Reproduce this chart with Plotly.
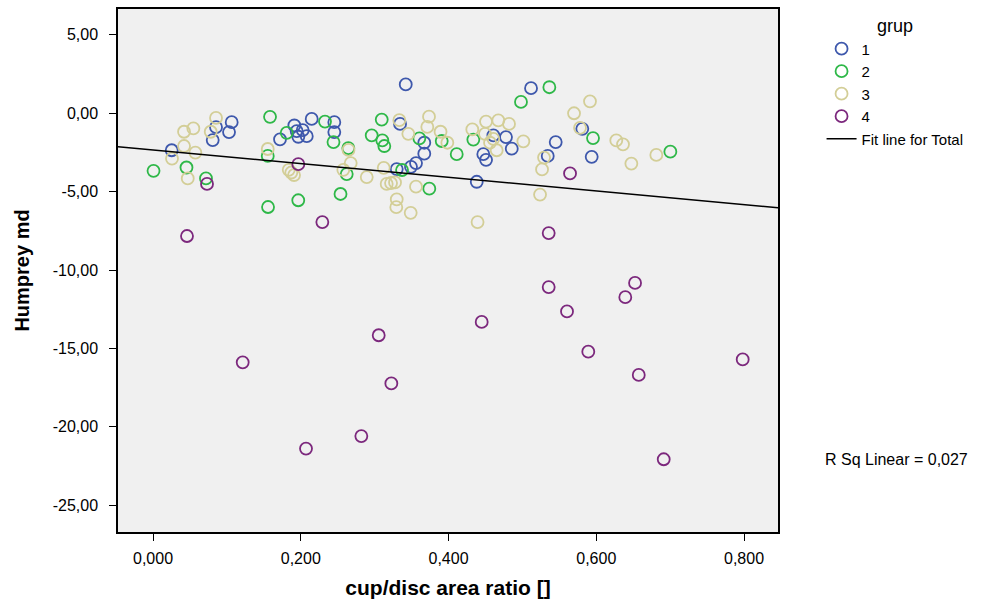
import numpy as np
import plotly.graph_objects as go

# cup/disc area ratio and Humphrey mean deviation, per group
g1_x = [0.0253, 0.0808, 0.0853, 0.1065, 0.1029, 0.1719, 0.1913, 0.2148, 0.1945, 0.2026,
        0.2081, 0.1967, 0.2454, 0.2454, 0.3421, 0.3344, 0.3672, 0.3672, 0.3560, 0.3492,
        0.3299, 0.4382, 0.4607, 0.4778, 0.4856, 0.4471, 0.4508, 0.5117, 0.5451, 0.5343,
        0.5811, 0.5938]
g1_y = [-2.36, -1.71, -0.89, -0.57, -1.20, -1.66, -0.78, -0.36, -1.14, -1.08,
        -1.46, -1.50, -0.57, -1.20, 1.84, -0.68, -1.88, -2.58, -3.18, -3.42,
        -3.56, -4.37, -1.41, -1.52, -2.26, -2.61, -2.97, 1.60, -1.84, -2.72,
        -0.99, -2.78]

g2_x = [0.0007, 0.0453, 0.0717, 0.1584, 0.1557, 0.1553, 0.1810, 0.1966, 0.2328, 0.2443,
        0.2538, 0.2644, 0.2622, 0.2960, 0.3096, 0.3104, 0.3131, 0.3371, 0.3605, 0.3740,
        0.3908, 0.4111, 0.4336, 0.4981, 0.5365, 0.5956, 0.7003]
g2_y = [-3.67, -3.46, -4.16, -0.23, -5.98, -2.72, -1.25, -5.55, -0.53, -1.84,
        -5.15, -2.22, -3.88, -1.41, -0.40, -1.73, -2.09, -3.62, -1.60, -4.81,
        -1.77, -2.61, -1.68, 0.72, 1.66, -1.58, -2.45]

g3_x = [0.0853, 0.0546, 0.0420, 0.0781, 0.0420, 0.0573, 0.0257, 0.0470, 0.1553, 0.1837,
        0.1872, 0.1909, 0.2646, 0.3334, 0.3736, 0.3713, 0.3456, 0.2676, 0.2576, 0.2893,
        0.3123, 0.3163, 0.3222, 0.3276, 0.3560, 0.3299, 0.3293, 0.3488, 0.3892, 0.4508,
        0.4674, 0.4819, 0.4322, 0.4494, 0.3984, 0.4562, 0.4652, 0.5013, 0.4606, 0.4393,
        0.5915, 0.5699, 0.5780, 0.5293, 0.5266, 0.5239, 0.6271, 0.6362, 0.6813, 0.6475]
g3_y = [-0.30, -0.97, -1.18, -1.18, -2.09, -2.51, -2.89, -4.16, -2.28, -3.61,
        -3.78, -3.94, -2.34, -0.44, -0.22, -0.87, -1.31, -3.18, -3.61, -4.07,
        -3.48, -4.51, -4.45, -4.41, -4.68, -5.49, -5.99, -6.35, -1.18, -0.53,
        -0.46, -0.68, -1.03, -1.31, -1.88, -1.88, -2.36, -1.79, -1.63, -6.94,
        0.76, 0.00, -0.93, -2.83, -3.58, -5.19, -1.73, -1.98, -2.66, -3.21]

g4_x = [0.0460, 0.0731, 0.1967, 0.2292, 0.1214, 0.2071, 0.2820, 0.3055, 0.3226, 0.4449,
        0.5356, 0.5356, 0.5604, 0.5645, 0.5892, 0.6393, 0.6525, 0.6575, 0.6913, 0.7982]
g4_y = [-7.83, -4.51, -3.25, -6.94, -15.89, -21.39, -20.59, -14.16, -17.23, -13.31,
        -7.64, -11.09, -12.64, -3.84, -15.21, -11.73, -10.82, -16.69, -22.07, -15.70]

groups = ["1", "2", "3", "4"]
colors = ["#3E58AC", "#2EB848", "#D3CE97", "#7C287D"]

x_ticks = [0.0, 0.2, 0.4, 0.6, 0.8]
x_tick_labels = ["0,000", "0,200", "0,400", "0,600", "0,800"]
y_ticks = [5, 0, -5, -10, -15, -20, -25]
y_tick_labels = ["5,00", "0,00", "-5,00", "-10,00", "-15,00", "-20,00", "-25,00"]

x_range = [-0.0474, 0.846]
y_range = [-26.71, 6.65]

font_family = "Liberation Sans, Arial, sans-serif"

fig = go.Figure()

for name, col, xs, ys in zip(groups, colors, [g1_x, g2_x, g3_x, g4_x], [g1_y, g2_y, g3_y, g4_y]):
    fig.add_trace(go.Scatter(
        x=xs, y=ys, mode="markers", name=name,
        marker=dict(symbol="circle-open", size=12, color=col, line=dict(width=1.8, color=col)),
    ))

# Least-squares fit over all groups
all_x = np.array(g1_x + g2_x + g3_x + g4_x)
all_y = np.array(g1_y + g2_y + g3_y + g4_y)
slope, intercept = np.polyfit(all_x, all_y, 1)
fx = np.array(x_range)
fig.add_trace(go.Scatter(
    x=fx, y=intercept + slope * fx, mode="lines", name="Fit line for Total",
    line=dict(color="black", width=1.5),
))

fig.update_layout(
    width=995, height=603,
    margin=dict(l=118, r=217, t=7, b=69),
    paper_bgcolor="white",
    plot_bgcolor="#F0F0F0",
    font=dict(family=font_family, color="black", size=15),
    showlegend=True,
    legend=dict(
        x=1.066, y=1.0, xanchor="left", yanchor="top",
        title=dict(text="grup", side="top center", font=dict(size=18)),
        font=dict(size=15),
        bgcolor="rgba(0,0,0,0)",
        itemwidth=30,
        tracegroupgap=0,
    ),
    annotations=[dict(
        text="R Sq Linear = 0,027", xref="paper", yref="paper",
        x=1.068, y=(534 - 461) / 527, xanchor="left", yanchor="middle",
        showarrow=False, font=dict(size=16),
    )],
)

fig.update_xaxes(
    range=x_range, tickvals=x_ticks, ticktext=x_tick_labels,
    showgrid=False, zeroline=False,
    showline=True, linecolor="black", linewidth=1.5, mirror=True,
    ticks="outside", ticklen=7, tickcolor="black", ticklabelstandoff=4,
    tickfont=dict(size=16),
    title=dict(text="<b>cup/disc area ratio []</b>", font=dict(size=21), standoff=14),
)
fig.update_yaxes(
    range=y_range, tickvals=y_ticks, ticktext=y_tick_labels,
    showgrid=False, zeroline=False,
    showline=True, linecolor="black", linewidth=1.5, mirror=True,
    ticks="outside", ticklen=7, tickcolor="black", ticklabelstandoff=8,
    tickfont=dict(size=16),
    title=dict(text="<b>Humprey md</b>", font=dict(size=20), standoff=18),
)

fig.write_html("out.html")
